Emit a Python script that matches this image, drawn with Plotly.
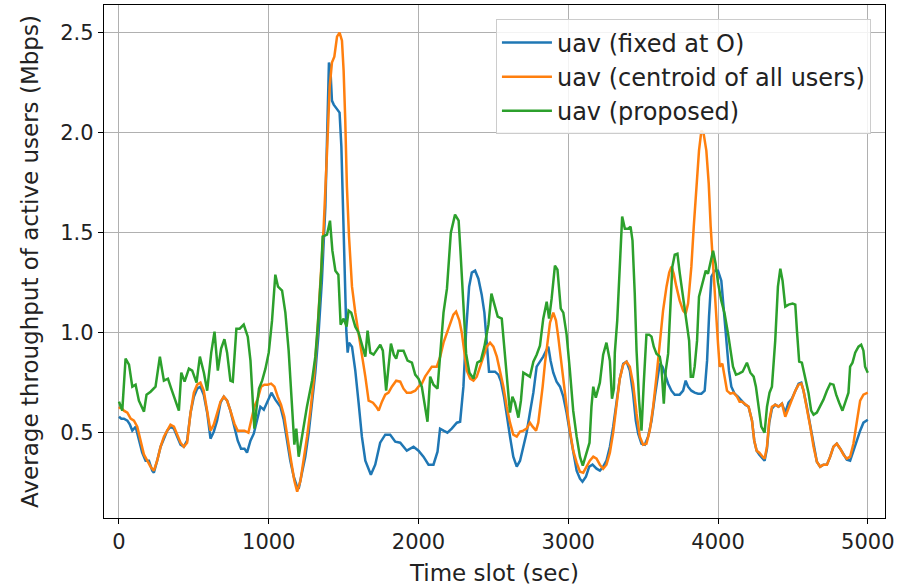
import plotly.graph_objects as go

# (time slot, throughput) pairs
fixed_pts = [
    (0, 0.58), (16, 0.57), (33, 0.57), (56, 0.56), (73, 0.54), (89, 0.51), (111, 0.53), (133, 0.46),
    (155, 0.40), (178, 0.36), (200, 0.36), (222, 0.31), (233, 0.30), (255, 0.36), (278, 0.43), (300, 0.47),
    (322, 0.51), (344, 0.53), (367, 0.52), (389, 0.48), (411, 0.44), (433, 0.43), (455, 0.46), (478, 0.60),
    (500, 0.68), (522, 0.72), (544, 0.73), (566, 0.69), (589, 0.60), (611, 0.47), (633, 0.505), (655, 0.56),
    (678, 0.65), (700, 0.68), (722, 0.66), (744, 0.61), (771, 0.53), (793, 0.46), (815, 0.42), (838, 0.42),
    (855, 0.40), (878, 0.46), (900, 0.495), (922, 0.56), (944, 0.63), (967, 0.615), (989, 0.65), (1018, 0.70),
    (1044, 0.665), (1078, 0.63), (1100, 0.565), (1122, 0.46), (1144, 0.36), (1167, 0.28), (1189, 0.23),
    (1200, 0.22), (1222, 0.30), (1244, 0.38), (1267, 0.50), (1289, 0.65), (1311, 0.80), (1333, 1.0),
    (1355, 1.26), (1378, 1.63), (1394, 2.06), (1402, 2.35), (1411, 2.33), (1422, 2.16), (1434, 2.14),
    (1456, 2.12), (1473, 2.10), (1485, 1.93), (1496, 1.65), (1507, 1.26), (1518, 1.01), (1527, 0.90),
    (1536, 0.95), (1556, 0.93), (1578, 0.81), (1600, 0.65), (1622, 0.48), (1645, 0.36), (1682, 0.29),
    (1711, 0.34), (1744, 0.45), (1778, 0.49), (1811, 0.49), (1845, 0.455), (1878, 0.45), (1922, 0.41),
    (1967, 0.43), (2000, 0.41), (2033, 0.38), (2067, 0.34), (2100, 0.34), (2127, 0.405), (2144, 0.52),
    (2167, 0.51), (2193, 0.50), (2222, 0.52), (2256, 0.55), (2278, 0.555), (2300, 0.73), (2318, 1.01),
    (2338, 1.23), (2356, 1.30), (2378, 1.31), (2400, 1.27), (2422, 1.19), (2440, 1.10), (2456, 0.96),
    (2471, 0.805), (2489, 0.805), (2511, 0.805), (2533, 0.79), (2551, 0.755), (2571, 0.68), (2589, 0.60),
    (2611, 0.48), (2633, 0.38), (2656, 0.33), (2678, 0.36), (2700, 0.43), (2722, 0.50), (2744, 0.60),
    (2767, 0.70), (2789, 0.83), (2811, 0.855), (2833, 0.88), (2856, 0.915), (2867, 0.93), (2882, 0.86),
    (2900, 0.80), (2922, 0.755), (2945, 0.73), (2967, 0.68), (2989, 0.60), (3011, 0.50), (3033, 0.40),
    (3056, 0.31), (3078, 0.27), (3095, 0.255), (3118, 0.28), (3140, 0.33), (3162, 0.34), (3189, 0.32),
    (3211, 0.31), (3233, 0.33), (3255, 0.36), (3278, 0.43), (3300, 0.53), (3322, 0.65), (3344, 0.77),
    (3367, 0.845), (3389, 0.855), (3411, 0.81), (3433, 0.695), (3451, 0.56), (3467, 0.495), (3489, 0.445),
    (3511, 0.44), (3533, 0.48), (3556, 0.56), (3578, 0.68), (3600, 0.795), (3611, 0.845), (3629, 0.83),
    (3645, 0.795), (3667, 0.745), (3689, 0.71), (3711, 0.69), (3744, 0.69), (3767, 0.71), (3784, 0.76),
    (3800, 0.73), (3822, 0.71), (3844, 0.70), (3867, 0.695), (3889, 0.695), (3911, 0.71), (3927, 0.86),
    (3940, 1.08), (3956, 1.28), (3978, 1.31), (4000, 1.31), (4022, 1.26), (4038, 1.13), (4056, 0.96),
    (4073, 0.81), (4089, 0.73), (4111, 0.695), (4133, 0.68), (4160, 0.655), (4182, 0.64), (4204, 0.63),
    (4227, 0.56), (4242, 0.46), (4258, 0.41), (4276, 0.39), (4298, 0.37), (4311, 0.36), (4327, 0.42),
    (4342, 0.55), (4360, 0.62), (4382, 0.64), (4404, 0.63), (4427, 0.645), (4449, 0.60), (4471, 0.65),
    (4493, 0.67), (4516, 0.71), (4538, 0.745), (4556, 0.75), (4571, 0.71), (4593, 0.63), (4616, 0.53),
    (4638, 0.43), (4660, 0.355), (4682, 0.33), (4704, 0.34), (4727, 0.34), (4749, 0.38), (4771, 0.43),
    (4793, 0.445), (4816, 0.42), (4838, 0.39), (4860, 0.365), (4882, 0.36), (4904, 0.405), (4927, 0.46),
    (4949, 0.51), (4971, 0.55), (5000, 0.565),
]

centroid_pts = [
    (0, 0.62), (11, 0.63), (33, 0.61), (56, 0.60), (78, 0.57), (100, 0.56), (122, 0.53), (144, 0.455),
    (167, 0.39), (189, 0.36), (211, 0.33), (233, 0.31), (255, 0.36), (278, 0.43), (300, 0.48), (322, 0.51),
    (344, 0.54), (367, 0.53), (389, 0.49), (411, 0.45), (433, 0.43), (455, 0.45), (478, 0.60), (500, 0.70),
    (522, 0.74), (544, 0.75), (566, 0.71), (589, 0.61), (611, 0.51), (633, 0.54), (655, 0.60), (678, 0.655),
    (700, 0.68), (722, 0.66), (744, 0.61), (771, 0.545), (793, 0.51), (815, 0.51), (838, 0.51), (864, 0.50),
    (882, 0.56), (904, 0.63), (927, 0.67), (949, 0.73), (971, 0.74), (993, 0.74), (1016, 0.745), (1038, 0.73),
    (1060, 0.68), (1082, 0.64), (1104, 0.58), (1127, 0.46), (1149, 0.36), (1171, 0.26), (1190, 0.205),
    (1212, 0.26), (1234, 0.36), (1256, 0.48), (1278, 0.61), (1300, 0.76), (1323, 0.98), (1345, 1.23),
    (1367, 1.53), (1389, 1.90), (1407, 2.23), (1422, 2.35), (1438, 2.38), (1456, 2.48), (1473, 2.50),
    (1489, 2.46), (1500, 2.31), (1511, 2.06), (1522, 1.73), (1536, 1.48), (1556, 1.23), (1578, 1.10),
    (1600, 1.0), (1622, 0.88), (1645, 0.78), (1667, 0.66), (1696, 0.65), (1718, 0.63), (1734, 0.61),
    (1756, 0.655), (1778, 0.69), (1800, 0.70), (1822, 0.73), (1851, 0.76), (1878, 0.755), (1900, 0.72),
    (1922, 0.70), (1949, 0.70), (1978, 0.71), (2000, 0.73), (2022, 0.745), (2044, 0.78), (2067, 0.805),
    (2089, 0.83), (2122, 0.83), (2145, 0.88), (2167, 0.95), (2189, 1.0), (2211, 1.05), (2233, 1.09),
    (2251, 1.105), (2273, 1.06), (2289, 1.0), (2305, 0.90), (2323, 0.81), (2345, 0.77), (2367, 0.76),
    (2389, 0.78), (2411, 0.83), (2434, 0.88), (2456, 0.93), (2478, 0.95), (2500, 0.93), (2523, 0.88),
    (2545, 0.81), (2567, 0.73), (2589, 0.63), (2611, 0.55), (2633, 0.49), (2656, 0.48), (2678, 0.505),
    (2700, 0.51), (2722, 0.52), (2744, 0.55), (2762, 0.53), (2785, 0.51), (2800, 0.55), (2811, 0.61),
    (2829, 0.73), (2845, 0.85), (2862, 0.96), (2878, 1.05), (2900, 1.10), (2918, 1.06), (2933, 0.98),
    (2951, 0.86), (2967, 0.75), (2989, 0.63), (3011, 0.51), (3033, 0.41), (3056, 0.35), (3078, 0.305),
    (3100, 0.30), (3122, 0.33), (3144, 0.36), (3167, 0.38), (3189, 0.37), (3211, 0.34), (3233, 0.32),
    (3255, 0.34), (3278, 0.40), (3300, 0.50), (3322, 0.65), (3344, 0.77), (3367, 0.84), (3389, 0.855),
    (3411, 0.83), (3433, 0.745), (3456, 0.595), (3478, 0.48), (3500, 0.44), (3522, 0.445), (3544, 0.51),
    (3567, 0.63), (3589, 0.78), (3611, 0.96), (3633, 1.11), (3656, 1.23), (3674, 1.30), (3689, 1.33),
    (3704, 1.295), (3722, 1.23), (3744, 1.16), (3767, 1.11), (3784, 1.095), (3800, 1.145), (3822, 1.33),
    (3838, 1.53), (3856, 1.745), (3873, 1.91), (3889, 2.01), (3904, 1.995), (3922, 1.91), (3938, 1.745),
    (3951, 1.53), (3967, 1.33), (3984, 1.095), (4000, 0.945), (4011, 0.83), (4029, 0.845), (4044, 0.78),
    (4060, 0.71), (4082, 0.695), (4104, 0.70), (4127, 0.68), (4144, 0.655), (4160, 0.655), (4182, 0.64),
    (4204, 0.63), (4227, 0.56), (4242, 0.46), (4258, 0.41), (4276, 0.40), (4298, 0.38), (4311, 0.37),
    (4327, 0.43), (4342, 0.56), (4360, 0.63), (4382, 0.64), (4404, 0.63), (4427, 0.645), (4449, 0.58),
    (4471, 0.62), (4493, 0.66), (4516, 0.71), (4538, 0.74), (4556, 0.745), (4571, 0.71), (4593, 0.63),
    (4616, 0.53), (4638, 0.43), (4660, 0.355), (4682, 0.33), (4704, 0.34), (4727, 0.34), (4749, 0.38),
    (4771, 0.43), (4793, 0.445), (4816, 0.42), (4838, 0.39), (4860, 0.37), (4882, 0.38), (4904, 0.445),
    (4927, 0.56), (4949, 0.66), (4971, 0.69), (5000, 0.70),
]

proposed_pts = [
    (0, 0.655), (22, 0.61), (44, 0.87), (67, 0.84), (89, 0.73), (111, 0.74), (133, 0.66), (167, 0.605),
    (184, 0.69), (211, 0.705), (244, 0.73), (273, 0.88), (300, 0.76), (327, 0.77), (349, 0.72), (378, 0.655),
    (400, 0.61), (416, 0.80), (438, 0.755), (467, 0.82), (489, 0.81), (518, 0.75), (540, 0.88), (567, 0.80),
    (589, 0.71), (616, 0.90), (638, 1.005), (660, 0.81), (682, 0.92), (704, 0.967), (722, 0.90), (744, 0.76),
    (760, 0.755), (784, 1.02), (806, 1.02), (833, 1.04), (860, 0.98), (878, 0.86), (893, 0.66), (904, 0.52),
    (918, 0.62), (935, 0.72), (956, 0.76), (978, 0.82), (1000, 0.90), (1022, 1.06), (1044, 1.29),
    (1062, 1.23), (1089, 1.21), (1111, 1.10), (1133, 0.91), (1155, 0.60), (1171, 0.44), (1184, 0.52),
    (1200, 0.38), (1222, 0.48), (1255, 0.63), (1289, 0.76), (1311, 0.88), (1329, 1.05), (1351, 1.31),
    (1360, 1.48), (1389, 1.49), (1409, 1.56), (1425, 1.41), (1445, 1.31), (1465, 1.29), (1480, 1.04),
    (1500, 1.07), (1520, 1.03), (1533, 1.11), (1551, 1.10), (1578, 1.03), (1600, 1.00), (1622, 0.94),
    (1645, 0.88), (1660, 1.01), (1678, 0.90), (1700, 0.89), (1727, 0.92), (1745, 0.94), (1762, 0.91),
    (1784, 0.71), (1800, 0.83), (1816, 0.945), (1835, 0.89), (1851, 0.87), (1865, 0.91), (1900, 0.91),
    (1927, 0.86), (1956, 0.85), (1978, 0.79), (2000, 0.77), (2022, 0.73), (2044, 0.63), (2060, 0.555),
    (2078, 0.78), (2100, 0.74), (2127, 0.72), (2144, 0.90), (2167, 1.10), (2190, 1.22), (2216, 1.50),
    (2244, 1.59), (2268, 1.56), (2280, 1.41), (2296, 1.18), (2318, 0.895), (2340, 0.80), (2367, 0.77),
    (2393, 0.85), (2416, 0.86), (2440, 0.93), (2467, 1.04), (2487, 1.195), (2505, 1.15), (2529, 1.08),
    (2556, 1.07), (2573, 0.92), (2596, 0.73), (2611, 0.60), (2627, 0.68), (2644, 0.65), (2667, 0.575),
    (2684, 0.66), (2700, 0.80), (2722, 0.79), (2744, 0.78), (2767, 0.855), (2789, 0.89), (2811, 0.935),
    (2833, 1.07), (2856, 1.155), (2872, 1.07), (2889, 1.17), (2911, 1.335), (2928, 1.315), (2942, 1.20),
    (2950, 1.12), (2967, 1.10), (2989, 0.99), (3011, 0.81), (3033, 0.61), (3056, 0.48), (3078, 0.38),
    (3097, 0.335), (3120, 0.39), (3142, 0.45), (3155, 0.63), (3167, 0.73), (3184, 0.675), (3211, 0.75),
    (3233, 0.89), (3255, 0.95), (3278, 0.86), (3292, 0.67), (3305, 0.72), (3311, 0.90), (3327, 1.06),
    (3340, 1.30), (3360, 1.58), (3378, 1.52), (3400, 1.52), (3416, 1.53), (3429, 1.46), (3444, 1.195),
    (3456, 0.91), (3473, 0.66), (3489, 0.51), (3504, 0.745), (3522, 0.99), (3540, 0.99), (3556, 0.98),
    (3571, 0.93), (3589, 0.895), (3611, 0.88), (3622, 0.83), (3638, 0.645), (3651, 0.81), (3667, 0.895),
    (3684, 1.13), (3695, 1.33), (3711, 1.39), (3729, 1.395), (3744, 1.30), (3767, 1.18), (3789, 1.08),
    (3807, 0.96), (3818, 0.78), (3833, 0.78), (3844, 0.83), (3860, 0.96), (3873, 1.18), (3889, 1.23),
    (3907, 1.28), (3918, 1.31), (3933, 1.295), (3949, 1.345), (3967, 1.41), (3984, 1.345), (4000, 1.25),
    (4022, 1.16), (4044, 1.095), (4067, 0.995), (4082, 0.91), (4100, 0.83), (4120, 0.79), (4140, 0.795),
    (4164, 0.805), (4193, 0.85), (4216, 0.80), (4238, 0.78), (4253, 0.73), (4271, 0.63), (4289, 0.53),
    (4311, 0.50), (4327, 0.63), (4344, 0.70), (4360, 0.73), (4382, 0.96), (4400, 1.23), (4416, 1.32),
    (4431, 1.26), (4449, 1.13), (4471, 1.14), (4498, 1.145), (4516, 1.14), (4527, 1.01), (4542, 0.855),
    (4560, 0.85), (4582, 0.78), (4604, 0.70), (4622, 0.61), (4638, 0.59), (4660, 0.60), (4682, 0.63),
    (4704, 0.665), (4727, 0.71), (4749, 0.745), (4771, 0.74), (4789, 0.69), (4809, 0.65), (4831, 0.61),
    (4849, 0.65), (4871, 0.70), (4882, 0.83), (4898, 0.85), (4916, 0.90), (4938, 0.93), (4956, 0.94),
    (4971, 0.91), (4982, 0.83), (5000, 0.80),
]

series_names = ["uav (fixed at O)", "uav (centroid of all users)", "uav (proposed)"]
series_colors = ["#1f77b4", "#ff7f0e", "#2ca02c"]
x_ticks = [0, 1000, 2000, 3000, 4000, 5000]
y_ticks = [0.5, 1.0, 1.5, 2.0, 2.5]

FONT = "DejaVu Sans"

fig = go.Figure()
for pts, name, color in zip([fixed_pts, centroid_pts, proposed_pts], series_names, series_colors):
    xs = [p[0] for p in pts]
    ys = [p[1] for p in pts]
    fig.add_trace(go.Scatter(x=xs, y=ys, mode="lines", name=name,
                             line=dict(color=color, width=2.5)))

axis_common = dict(
    showline=True, linecolor="black", linewidth=1.3, mirror=True,
    showgrid=True, gridcolor="#b0b0b0", gridwidth=1,
    ticks="outside", ticklen=5, tickwidth=1.2, tickcolor="black",
    zeroline=False, automargin=False, tickfont=dict(family=FONT, size=21, color="#222222"),
)

fig.update_layout(
    width=899, height=587,
    margin=dict(l=104, r=14, t=5, b=69),
    paper_bgcolor="white", plot_bgcolor="white",
    font=dict(family=FONT, size=21, color="#222222"),
    showlegend=True,
    legend=dict(
        x=0.982, y=0.972, xanchor="right", yanchor="top",
        bgcolor="rgba(255,255,255,0.85)", bordercolor="#cccccc", borderwidth=1,
        font=dict(family=FONT, size=24, color="#222222"),
        itemwidth=50, tracegroupgap=0,
    ),
    xaxis=dict(range=[-100, 5115], tickvals=x_ticks,
               title=dict(text="Time slot (sec)", font=dict(family=FONT, size=23), standoff=11),
               **axis_common),
    yaxis=dict(range=[0.0735, 2.638], tickvals=y_ticks, tickformat=".1f",
               title=dict(text="Average throughput of active users (Mbps)", font=dict(family=FONT, size=23), standoff=15),
               **axis_common),
)

fig.write_html("out.html")
